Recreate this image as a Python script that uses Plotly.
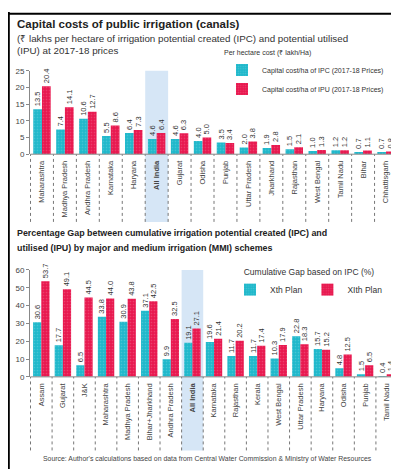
import plotly.graph_objects as go

# ---------------- Data: top chart ----------------
states_cost = ["Maharashtra", "Madhya Pradesh", "Andhra Pradesh", "Karnataka", "Haryana",
               "All India", "Gujarat", "Odisha", "Punjab", "Uttar Pradesh", "Jharkhand",
               "Rajasthan", "West Bengal", "Tamil Nadu", "Bihar", "Chhattisgarh"]
cost_ipc = [13.5, 7.4, 10.6, 5.5, 6.4, 4.6, 4.6, 4.0, 3.5, 2.0, 1.9, 1.5, 1.0, 1.2, 0.7, 0.7]
cost_ipu = [20.4, 14.1, 12.7, 8.6, 7.3, 6.4, 6.3, 5.0, 3.4, 3.8, 2.8, 2.1, 1.3, 1.2, 1.1, 0.8]
cost_ticks = [0, 5, 10, 15, 20, 25]

# ---------------- Data: bottom chart ----------------
states_gap = ["Assam", "Gujarat", "J&K", "Maharashtra", "Madhya Pradesh", "Bihar+Jharkhand",
              "Andhra Pradesh", "All India", "Karnataka", "Rajasthan", "Kerala", "West Bengal",
              "Uttar Pradesh", "Haryana", "Odisha", "Punjab", "Tamil Nadu"]
gap_x = [30.6, 17.7, 6.5, 33.8, 30.9, 37.1, 9.9, 19.1, 19.6, 11.7, 11.7, 10.3, 22.8, 15.7, 4.8, 1.5, 0.4]
gap_xi = [53.7, 49.1, 44.5, 44.0, 43.8, 42.5, 32.5, 27.1, 21.4, 20.2, 17.4, 17.9, 18.3, 15.2, 12.5, 6.5, 1.4]
gap_ticks = [0, 10, 20, 30, 40, 50, 60]

CYAN = "#1fb8cb"
RED = "#e8184f"
FONT = "Liberation Sans, Arial, sans-serif"
W, H = 399, 469

def py(p):
    return 1 - p / H

def px(p):
    return p / W

def ticklabels(cats):
    return ["<b>%s</b>" % c if c == "All India" else c for c in cats]

fig = go.Figure()

def add_bars(cats, vals, name, color, xa, ya, legend):
    fig.add_trace(go.Bar(
        x=cats, y=vals, name=name, xaxis=xa, yaxis=ya, legend=legend,
        marker=dict(color=color, line=dict(width=0),
                    pattern=dict(shape=".", fgcolor="rgba(255,255,255,0.35)", size=3, solidity=0.25)),
        text=[str(v) for v in vals], textposition="outside", textangle=-90,
        textfont=dict(size=7.5, color="#333", family=FONT),
        constraintext="none", cliponaxis=False,
    ))

add_bars(states_cost, cost_ipc, "Capital cost/ha of IPC (2017-18 Prices)", CYAN, "x", "y", "legend")
add_bars(states_cost, cost_ipu, "Capital cost/ha of IPU (2017-18 Prices)", RED, "x", "y", "legend")
add_bars(states_gap, gap_x, "Xth Plan", CYAN, "x2", "y2", "legend2")
add_bars(states_gap, gap_xi, "XIth Plan", RED, "x2", "y2", "legend2")

xdom = [px(22), px(390)]
top_y = [py(145), py(60)]
bot_y = [py(372), py(263)]

axis_common = dict(showgrid=False, zeroline=False, linecolor="#888", linewidth=1,
                   tickfont=dict(size=8, color="#444", family=FONT))
xaxis_common = dict(type="category", tickangle=-90, ticks="", showline=False,
                    ticklabelstandoff=4, tickfont=dict(size=7.5, color="#444", family=FONT))

fig.update_layout(
    width=W, height=H, margin=dict(l=0, r=0, t=0, b=0),
    paper_bgcolor="white", plot_bgcolor="rgba(0,0,0,0)",
    barmode="group", bargap=0.24, bargroupgap=0.0,
    font=dict(family=FONT, color="#333"),
    xaxis=dict(domain=xdom, anchor="y", tickvals=states_cost,
               ticktext=ticklabels(states_cost), **xaxis_common),
    yaxis=dict(domain=top_y, anchor="x", range=[0, 25], tickvals=cost_ticks,
               ticks="outside", ticklen=3, tickcolor="#888", showline=True, **axis_common),
    xaxis2=dict(domain=xdom, anchor="y2", tickvals=states_gap,
                ticktext=ticklabels(states_gap), **xaxis_common),
    yaxis2=dict(domain=bot_y, anchor="x2", range=[0, 60], tickvals=gap_ticks,
                ticks="outside", ticklen=3, tickcolor="#888", showline=True, **axis_common),
    legend=dict(x=px(214), y=py(35), xanchor="left", yanchor="top", orientation="v",
                title=dict(text="Per hectare cost (₹ lakh/Ha)", font=dict(size=7, color="#333")),
                font=dict(size=7, color="#333"), bgcolor="rgba(0,0,0,0)",
                tracegroupgap=0, itemwidth=30),
    legend2=dict(x=px(222), y=py(257), xanchor="left", yanchor="top", orientation="h",
                 title=dict(text="Cumulative Gap based on IPC (%)", side="top center",
                            font=dict(size=8.5, color="#333")),
                 font=dict(size=8.5, color="#333"), bgcolor="rgba(0,0,0,0)", itemwidth=30),
)

shapes = []
# frame lines
shapes.append(dict(type="line", xref="paper", yref="paper", x0=0.002, x1=0.002, y0=0, y1=1,
                   line=dict(color="black", width=2)))
shapes.append(dict(type="line", xref="paper", yref="paper", x0=0, x1=1, y0=0.996, y1=0.996,
                   line=dict(color="black", width=2)))

def add_category_decor(cats, xref, plot_top, axis_bottom, label_bottom):
    idx = cats.index("All India")
    shapes.append(dict(type="rect", xref=xref, yref="paper", x0=idx - 0.5, x1=idx + 0.5,
                       y0=py(label_bottom), y1=py(plot_top), layer="below", line=dict(width=0),
                       fillcolor="rgba(180,210,238,0.55)"))
    for i in range(len(cats) + 1):
        shapes.append(dict(type="line", xref=xref, yref="paper", x0=i - 0.5, x1=i - 0.5,
                           y0=py(label_bottom), y1=py(axis_bottom),
                           line=dict(color="#777", width=1, dash="dot")))
    shapes.append(dict(type="line", xref=xref, yref="paper", x0=-0.5, x1=len(cats) - 0.5,
                       y0=py(axis_bottom), y1=py(axis_bottom), line=dict(color="#888", width=1)))

add_category_decor(states_cost, "x", 60, 145, 214)
add_category_decor(states_gap, "x2", 263, 372, 447)
fig.update_layout(shapes=shapes)

ann = [
    dict(text="<b>Capital costs of public irrigation (canals)</b>", x=px(7), y=py(4),
         font=dict(size=11.5, color="#222")),
    dict(text="(₹ lakhs per hectare of irrigation potential created (IPC) and potential utilised",
         x=px(7), y=py(19), font=dict(size=9.8, color="#333")),
    dict(text="(IPU) at 2017-18 prices", x=px(7), y=py(32), font=dict(size=9.8, color="#333")),
    dict(text="<b>Percentage Gap between cumulative irrigation potential created (IPC) and</b>",
         x=px(7), y=py(218), font=dict(size=8.9, color="#222")),
    dict(text="<b>utilised (IPU) by major and medium irrigation (MMI) schemes</b>",
         x=px(7), y=py(233), font=dict(size=8.9, color="#222")),
]
for a in ann:
    a.update(xref="paper", yref="paper", xanchor="left", yanchor="top", showarrow=False)
ann.append(dict(text="Source: Author's calculations based on data from Central Water Commission & Ministry of Water Resources",
                x=0.5, y=py(456), xref="paper", yref="paper", xanchor="center", yanchor="middle",
                showarrow=False, font=dict(size=6.9, color="#444")))
fig.update_layout(annotations=ann)

fig.write_html("out.html")
